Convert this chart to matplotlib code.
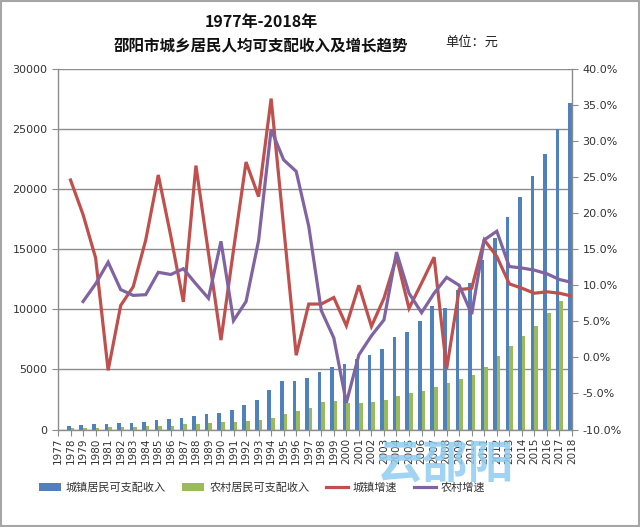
import numpy as np
import matplotlib
matplotlib.use("Agg")
from matplotlib import pyplot as plt
from matplotlib import patches
from matplotlib.ticker import FuncFormatter, MultipleLocator

plt.rcParams['font.family'] = ['Noto Sans CJK SC', 'DejaVu Sans']

# --------- DATA ---------
years = list(range(1977, 2019))

# 城镇居民可支配收入 (元)
urban_income = [240, 300, 375, 433, 433, 517, 567, 650, 792, 875,
                933, 1140, 1320, 1400, 1600, 2010, 2458, 3292, 4042, 4042,
                4317, 4790, 5233, 5450, 5900, 6208, 6720, 7683, 8150, 9067,
                10300, 10150, 11625, 12150, 14125, 15930, 17683, 19350, 21067, 22958,
                25017, 27183]

# 农村居民可支配收入 (元)
rural_income = [np.nan, 100, 150, 165, 200, 220, 233, 270, 292, 325,
                433, 480, 517, 600, 595, 690, 820, 983, 1267, 1542,
                1780, 2317, 2400, 2230, 2183, 2317, 2458, 2792, 3017, 3233,
                3517, 3850, 4220, 4542, 5233, 6150, 6958, 7792, 8650, 9683,
                10733, 11700]

# 城镇增速 (%)
urban_growth = [np.nan, 24.6, 19.8, 13.8, -1.8, 7.2, 9.8, 16.3, 25.3, 16.8,
                7.7, 26.6, 14.5, 2.4, 14.9, 27.1, 22.3, 35.9, 18.1, 0.3,
                7.4, 7.4, 8.3, 4.4, 10.0, 4.3, 8.2, 13.9, 6.8, 10.3,
                13.9, -1.6, 9.4, 9.6, 16.3, 14.0, 10.2, 9.6, 8.9, 9.1,
                8.9, 8.5]

# 农村增速 (%)
rural_growth = [np.nan, np.nan, 7.75, 10.2, 13.2, 9.4, 8.6, 8.7, 11.8, 11.5,
                12.3, 10.2, 8.2, 16.1, 5.1, 7.75, 16.2, 31.6, 27.4, 25.8,
                18.2, 6.5, 2.7, -6.3, 0.35, 3.0, 5.2, 14.6, 8.9, 6.2,
                8.9, 11.1, 10.0, 6.0, 16.3, 17.5, 12.6, 12.4, 12.1, 11.6,
                10.8, 10.4]

# ------------------------

blue = '#4F81BD'
green = '#9BBB59'
red = '#C0504D'
purple = '#8064A2'
grey = '#8C8C8C'

fig = plt.figure(figsize=(6.4, 5.27), dpi=100)
ax = fig.add_axes([58 / 640, 1 - 429.5 / 527, 514 / 640, 360.5 / 527])

x = np.arange(len(years))
w = 0.29
b1 = ax.bar(x - w / 2, urban_income, width=w, color=blue, label='城镇居民可支配收入', zorder=2)
b2 = ax.bar(x + w / 2, rural_income, width=w, color=green, label='农村居民可支配收入', zorder=2)

ax.set_xlim(0, len(years) - 1)
ax.set_ylim(0, 30000)
ax.yaxis.set_major_locator(MultipleLocator(5000))
ax.set_axisbelow(True)
ax.grid(axis='y', color=grey, lw=1.0)
ax.set_xticks(x)
ax.set_xticklabels([str(y) for y in years], rotation=90, fontsize=7.5, family='DejaVu Sans')
ax.tick_params(axis='y', labelsize=8, colors='#333333', length=4, color=grey)
ax.tick_params(axis='x', colors='#333333', length=4, color=grey, pad=2)
for lab in ax.get_yticklabels():
    lab.set_family('DejaVu Sans')
for s in ['top', 'right']:
    ax.spines[s].set_visible(False)
for s in ['left', 'bottom']:
    ax.spines[s].set_color(grey)
    ax.spines[s].set_linewidth(1.0)

# Growth rates on secondary axis
ax2 = ax.twinx()
l1, = ax2.plot(x, urban_growth, color=red, lw=2.3, label='城镇增速', solid_joinstyle='miter')
l2, = ax2.plot(x, rural_growth, color=purple, lw=2.3, label='农村增速', solid_joinstyle='miter')
ax2.set_ylim(-10, 40)
ax2.yaxis.set_major_locator(MultipleLocator(5))
ax2.yaxis.set_major_formatter(FuncFormatter(lambda v, p: '{0:.1f}%'.format(v)))
ax2.tick_params(axis='y', labelsize=8, colors='#333333', length=4, color=grey)
for lab in ax2.get_yticklabels():
    lab.set_family('DejaVu Sans')
for s in ['top', 'left', 'bottom']:
    ax2.spines[s].set_visible(False)
ax2.spines['right'].set_color(grey)
ax2.spines['right'].set_linewidth(1.0)

# Titles
fig.text(261 / 640, 1 - 22 / 527, '1977年-2018年', ha='center', va='center',
         fontsize=11.5, fontweight='bold', color='#111111')
fig.text(261 / 640, 1 - 45 / 527, '邵阳市城乡居民人均可支配收入及增长趋势', ha='center', va='center',
         fontsize=11.2, fontweight='bold', color='#111111')
fig.text(472 / 640, 1 - 42 / 527, '单位：元', ha='center', va='center',
         fontsize=9.5, color='#222222')

# Legend
fig.legend(handles=[b1, b2, l1, l2], loc='center', bbox_to_anchor=(262 / 640, 1 - 488 / 527),
           ncol=4, frameon=False, fontsize=8, handlelength=2.0, handletextpad=0.45,
           columnspacing=1.45, labelcolor='#333333')

# Watermark
fig.text(446 / 640, 1 - 464 / 527, '云邵阳', ha='center', va='center', fontsize=33,
         fontweight='bold', color='#8FCDF0', alpha=0.85, zorder=10)

# Outer border
fig.patches.append(patches.Rectangle((0.002, 0.002), 0.996, 0.996, transform=fig.transFigure,
                                     fill=False, edgecolor='#A6A6A6', lw=1.5))

fig.savefig('out.png', dpi=100)
